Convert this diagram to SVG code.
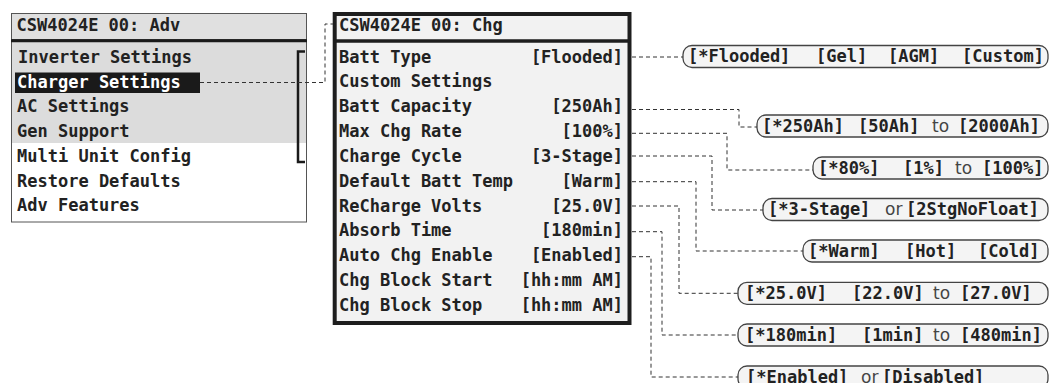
<svg xmlns="http://www.w3.org/2000/svg" width="1051" height="383" viewBox="0 0 1051 383">
  <style>
    .mono { font-family: "DejaVu Sans Mono", "Liberation Mono", monospace; font-size: 17px; font-weight: bold; fill: #222; }
    .val { text-anchor: end; }
    .word { font-family: "DejaVu Sans", "Liberation Sans", sans-serif; font-size: 17px; fill: #444; }
    .pill { fill: #f4f4f4; stroke: #444; stroke-width: 1.3; }
    .link { fill: none; stroke: #333; stroke-width: 1; stroke-dasharray: 4 3; }
  </style>

  <!-- Advanced menu screen -->
  <g id="adv-menu">
    <rect x="11.5" y="13.5" width="295" height="208.5" fill="#ffffff" stroke="#555" stroke-width="1"/>
    <rect x="11.5" y="13.5" width="295" height="26" fill="#e0e0e0" stroke="#555" stroke-width="1"/>
    <rect x="12" y="42" width="294" height="101" fill="#dcdcdc"/>
    <line x1="11" y1="40.7" x2="307" y2="40.7" stroke="#1a1a1a" stroke-width="3"/>
    <text class="mono" x="16.5" y="30.7">CSW4024E 00: Adv</text>
    <text class="mono" x="18" y="63">Inverter Settings</text>
    <rect x="15" y="72.5" width="185" height="20.5" fill="#1a1a1a"/>
    <text class="mono" x="17" y="88" style="fill:#ffffff">Charger Settings</text>
    <text class="mono" x="17" y="112">AC Settings</text>
    <text class="mono" x="17" y="137">Gen Support</text>
    <text class="mono" x="17" y="161.5">Multi Unit Config</text>
    <text class="mono" x="17" y="186.5">Restore Defaults</text>
    <text class="mono" x="17" y="211">Adv Features</text>
    <!-- scroll bar -->
    <path d="M305 51.5 H298 V162 H305" fill="none" stroke="#1a1a1a" stroke-width="2.5"/>
  </g>

  <!-- Charger settings screen -->
  <g id="chg-menu">
    <rect x="334.7" y="14" width="294.8" height="309" fill="#f2f2f2" stroke="#1e1e1e" stroke-width="4"/>
    <line x1="334" y1="41" x2="630" y2="41" stroke="#1e1e1e" stroke-width="3.5"/>
    <text class="mono" x="339" y="30.7">CSW4024E 00: Chg</text>
    <text class="mono" x="339" y="62.7">Batt Type</text>
    <text class="mono val" x="623" y="62.7">[Flooded]</text>
    <text class="mono" x="339" y="87.3">Custom Settings</text>
    <text class="mono" x="339" y="112.3">Batt Capacity</text>
    <text class="mono val" x="623" y="112.3">[250Ah]</text>
    <text class="mono" x="339" y="136.8">Max Chg Rate</text>
    <text class="mono val" x="623" y="136.8">[100%]</text>
    <text class="mono" x="339" y="161.6">Charge Cycle</text>
    <text class="mono val" x="623" y="161.6">[3-Stage]</text>
    <text class="mono" x="339" y="186.5">Default Batt Temp</text>
    <text class="mono val" x="623" y="186.5">[Warm]</text>
    <text class="mono" x="339" y="211.5">ReCharge Volts</text>
    <text class="mono val" x="623" y="211.5">[25.0V]</text>
    <text class="mono" x="339" y="236">Absorb Time</text>
    <text class="mono val" x="623" y="236">[180min]</text>
    <text class="mono" x="339" y="261">Auto Chg Enable</text>
    <text class="mono val" x="623" y="261">[Enabled]</text>
    <text class="mono" x="339" y="285.8">Chg Block Start</text>
    <text class="mono val" x="623" y="285.8">[hh:mm AM]</text>
    <text class="mono" x="339" y="310.5">Chg Block Stop</text>
    <text class="mono val" x="623" y="310.5">[hh:mm AM]</text>
  </g>

  <!-- option lists -->
  <g id="opt-batt-type">
    <rect class="pill" x="683" y="45.5" width="365" height="22" rx="9"/>
    <text class="mono" y="62.3"><tspan x="688">[*Flooded]</tspan><tspan x="816">[Gel]</tspan><tspan x="888">[AGM]</tspan><tspan x="962">[Custom]</tspan></text>
  </g>
  <g id="opt-batt-capacity">
    <rect class="pill" x="757" y="115" width="291" height="22" rx="9"/>
    <text class="mono" y="131.8"><tspan x="762">[*250Ah]</tspan><tspan x="858">[50Ah]</tspan><tspan x="958">[2000Ah]</tspan></text>
    <text class="word" x="932" y="131.8">to</text>
  </g>
  <g id="opt-max-chg-rate">
    <rect class="pill" x="813" y="157" width="235" height="22" rx="9"/>
    <text class="mono" y="174"><tspan x="818">[*80%]</tspan><tspan x="903">[1%]</tspan><tspan x="982">[100%]</tspan></text>
    <text class="word" x="955" y="174">to</text>
  </g>
  <g id="opt-charge-cycle">
    <rect class="pill" x="763" y="198.5" width="285" height="22" rx="9"/>
    <text class="mono" y="215.2"><tspan x="768">[*3-Stage]</tspan><tspan x="906">[2StgNoFloat]</tspan></text>
    <text class="word" x="885" y="215.2">or</text>
  </g>
  <g id="opt-batt-temp">
    <rect class="pill" x="803" y="240" width="245" height="22" rx="9"/>
    <text class="mono" y="257"><tspan x="808">[*Warm]</tspan><tspan x="905">[Hot]</tspan><tspan x="978">[Cold]</tspan></text>
  </g>
  <g id="opt-recharge-volts">
    <rect class="pill" x="738" y="282.3" width="310" height="22" rx="9"/>
    <text class="mono" y="299.3"><tspan x="745">[*25.0V]</tspan><tspan x="852">[22.0V]</tspan><tspan x="960">[27.0V]</tspan></text>
    <text class="word" x="933" y="299.3">to</text>
  </g>
  <g id="opt-absorb-time">
    <rect class="pill" x="738" y="324" width="310" height="22" rx="9"/>
    <text class="mono" y="341"><tspan x="745">[*180min]</tspan><tspan x="862">[1min]</tspan><tspan x="960">[480min]</tspan></text>
    <text class="word" x="933" y="341">to</text>
  </g>
  <g id="opt-auto-chg">
    <rect class="pill" x="738" y="366" width="310" height="22" rx="9"/>
    <text class="mono" y="382.5"><tspan x="746">[*Enabled]</tspan><tspan x="882">[Disabled]</tspan></text>
    <text class="word" x="861" y="382.5">or</text>
  </g>

  <!-- dashed leader lines -->
  <g id="connectors">
    <path class="link" d="M200 82.5 H325 V24 H333"/>
    <path class="link" d="M632 57 H683"/>
    <path class="link" d="M632 109.5 H739 V127 H757"/>
    <path class="link" d="M632 133.3 H727 V170 H813"/>
    <path class="link" d="M632 156 H712 V210 H763"/>
    <path class="link" d="M632 181.7 H696 V251 H803"/>
    <path class="link" d="M632 206 H679 V293.3 H738"/>
    <path class="link" d="M632 231.7 H662 V335 H738"/>
    <path class="link" d="M632 256.7 H651 V377 H738"/>
  </g>
</svg>
